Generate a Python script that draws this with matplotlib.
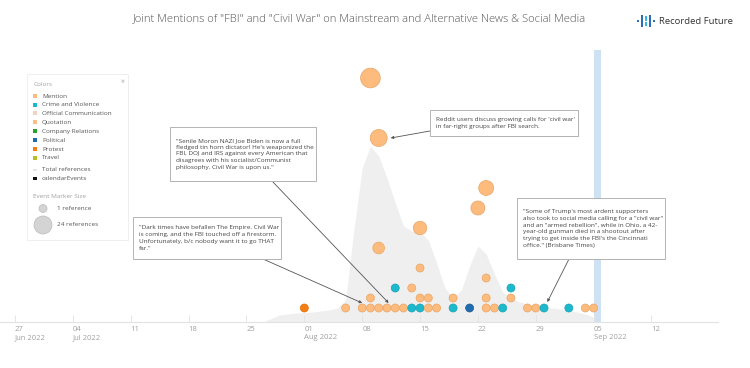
import datetime as dt
import numpy as np
import matplotlib
matplotlib.use("Agg")
import matplotlib.pyplot as plt
from matplotlib.patches import Rectangle, Ellipse

plt.rcParams['font.family'] = ['Open Sans', 'DejaVu Sans']

W, H = 750, 368


def day(s):
    return dt.datetime.strptime(s, "%Y-%m-%d")


# grey area: total references per day
area_days = ["2022-07-27", "2022-07-29", "2022-07-31", "2022-08-02",
             "2022-08-04", "2022-08-05", "2022-08-06", "2022-08-07", "2022-08-08",
             "2022-08-09", "2022-08-10", "2022-08-11", "2022-08-12", "2022-08-13",
             "2022-08-14", "2022-08-15", "2022-08-16", "2022-08-17", "2022-08-18",
             "2022-08-19", "2022-08-20", "2022-08-21", "2022-08-22", "2022-08-23",
             "2022-08-24", "2022-08-25", "2022-08-26", "2022-08-27", "2022-08-29",
             "2022-08-31", "2022-09-02", "2022-09-04", "2022-09-05", "2022-09-06"]
area_refs = [-0.4, 0.3, 0.5, 0.6,
             0.8, 1.0, 1.8, 8.8, 15.0,
             17.2, 16.2, 14.0, 11.5, 9.2,
             8.7, 8.6, 7.8, 5.5, 3.0,
             2.0, 2.8, 5.2, 7.2, 6.4,
             4.4, 2.6, 2.0, 1.6, 1.2,
             1.0, 0.8, 0.4, 0.1, -0.4]

# events
ev_days = ["2022-08-01", "2022-08-06", "2022-08-08", "2022-08-09", "2022-08-09",
           "2022-08-09", "2022-08-10", "2022-08-10", "2022-08-10", "2022-08-11",
           "2022-08-12", "2022-08-12", "2022-08-13", "2022-08-14", "2022-08-14",
           "2022-08-15", "2022-08-15", "2022-08-15", "2022-08-15", "2022-08-16",
           "2022-08-16", "2022-08-17", "2022-08-19", "2022-08-19", "2022-08-21",
           "2022-08-22", "2022-08-23", "2022-08-23", "2022-08-23", "2022-08-23",
           "2022-08-24", "2022-08-25", "2022-08-26", "2022-08-26", "2022-08-28",
           "2022-08-29", "2022-08-30", "2022-09-02", "2022-09-04", "2022-09-05"]
ev_level = [1, 1, 1, 1, 2,
            24, 1, 7, 18, 1,
            1, 3, 1, 1, 3,
            1, 2, 5, 9, 1,
            2, 1, 1, 2, 1,
            11, 1, 2, 4, 13,
            1, 1, 2, 3, 1,
            1, 1, 1, 1, 1]
ev_refs = [1, 1, 1, 1, 1,
           24, 1, 5, 16, 1,
           1, 1, 1, 1, 1,
           1, 1, 1, 8, 1,
           1, 1, 1, 1, 1,
           9, 1, 1, 1, 11,
           1, 1, 1, 1, 1,
           1, 1, 1, 1, 1]
ev_cat = ["Protest", "Mention", "Mention", "Mention", "Mention",
          "Mention", "Mention", "Mention", "Mention", "Mention",
          "Mention", "Crime and Violence", "Mention", "Crime and Violence", "Mention",
          "Crime and Violence", "Mention", "Mention", "Mention", "Mention",
          "Mention", "Mention", "Crime and Violence", "Mention", "Political",
          "Mention", "Mention", "Mention", "Mention", "Mention",
          "Mention", "Crime and Violence", "Mention", "Crime and Violence", "Mention",
          "Mention", "Crime and Violence", "Crime and Violence", "Mention", "Mention"]

categories = ["Mention", "Crime and Violence", "Official Communication", "Quotation",
              "Company Relations", "Political", "Protest", "Travel"]
cat_colors = ["#fdbb7e", "#1cb8cc", "#f2d3c3", "#fdbf88",
              "#2ca02c", "#1f6cb0", "#f57e12", "#bcbd22"]
cat_edges = ["#e8a565", "#16a3b6", "#e0bfae", "#e8a86e",
             "#238a23", "#1a5c98", "#dd6e0a", "#a5a61c"]

week_ticks = ["2022-06-27", "2022-07-04", "2022-07-11", "2022-07-18", "2022-07-25",
              "2022-08-01", "2022-08-08", "2022-08-15", "2022-08-22", "2022-08-29",
              "2022-09-05", "2022-09-12"]
week_labels = ["27\nJun 2022", "04\nJul 2022", "11", "18", "25", "01\nAug 2022",
               "08", "15", "22", "29", "05\nSep 2022", "12"]

calendar_day = "2022-09-05"


def fx(x):
    return x / W


def fy(y):
    return 1 - y / H


def diam(refs):
    return 5 + 3 * np.sqrt(refs)


fig = plt.figure(figsize=(W / 100, H / 100), dpi=100)
ax = fig.add_axes([fx(0), fy(322), fx(718), (322 - 50) / H])

x0 = day("2022-06-27")
ax.set_xlim(x0 - dt.timedelta(days=15 / 8.266), x0 + dt.timedelta(days=703 / 8.266))
ax.set_ylim(-0.4, 26.8)

ad = [day(s) for s in area_days]
ax.fill_between(ad, -0.4, area_refs, color="#efefef", lw=0, zorder=1)

cd = day(calendar_day)
ax.axvspan(cd, cd + dt.timedelta(days=0.9), color="#cfe2f3", lw=0, zorder=1)

colmap = dict(zip(categories, cat_colors))
edgemap = dict(zip(categories, cat_edges))
ed = [day(s) for s in ev_days]
sizes = [(diam(r) * 0.72) ** 2 for r in ev_refs]
ax.scatter(ed, ev_level, s=sizes, c=[colmap[c] for c in ev_cat],
           edgecolors=[edgemap[c] for c in ev_cat], linewidths=0.5, zorder=3)

for sp in ["top", "left", "right"]:
    ax.spines[sp].set_visible(False)
ax.spines["bottom"].set_color("#e2e2e2")
ax.spines["bottom"].set_linewidth(0.8)
ax.set_yticks([])
ax.set_xticks([day(s) for s in week_ticks])
ax.set_xticklabels(week_labels, ha="left")
ax.tick_params(axis="x", direction="in", length=5, color="#e2e2e2", width=0.6,
               labelsize=5.5, labelcolor="#a0a0a0", pad=3)
ax.patch.set_alpha(0)

# title and logo
fig.text(fx(359), fy(19), 'Joint Mentions of "FBI" and "Civil War" on Mainstream and '
         'Alternative News & Social Media', ha="center", va="center",
         fontsize=8.1, color="#555555", fontweight="light")
fig.text(fx(659), fy(21), "Recorded Future", ha="left", va="center",
         fontsize=6.8, color="#333333")
for bx, by, bh, bc in [(638, 21, 2.2, "#2a6fba"), (642, 21, 12, "#2a6fba"),
                       (646, 18.5, 4, "#35b5e5"), (646, 24, 4, "#35b5e5"),
                       (650, 21, 12, "#2a6fba"), (654, 21, 2.2, "#2a6fba")]:
    fig.patches.append(Rectangle((fx(bx - 1.1), fy(by + bh / 2)), fx(2.2), bh / H,
                                 transform=fig.transFigure, color=bc, lw=0))

# legend panel
fig.patches.append(Rectangle((fx(27), fy(240)), fx(101), (240 - 74) / H,
                             transform=fig.transFigure, facecolor="white",
                             edgecolor="#ececec", lw=0.6, zorder=5))
fig.text(fx(34), fy(85), "Colors", fontsize=4.6, color="#a0a0a0", va="center", zorder=6)
fig.text(fx(121), fy(80), "»", fontsize=6, color="#a0a0a0", va="center", ha="center",
         rotation=-90, zorder=6)
row_y = [96, 104.7, 113.3, 122.3, 131.3, 140, 149, 157.7]
for name, col, yy in zip(categories, cat_colors, row_y):
    fig.patches.append(Rectangle((fx(33), fy(yy + 2)), fx(4), 4 / H,
                                 transform=fig.transFigure, color=col, lw=0, zorder=6))
    fig.text(fx(42), fy(yy), name, fontsize=4.6, color="#555555", va="center", zorder=6)
fig.patches.append(Rectangle((fx(33), fy(171)), fx(4), 2.5 / H,
                             transform=fig.transFigure, color="#e6e6e6", lw=0, zorder=6))
fig.text(fx(42), fy(169.7), "Total references", fontsize=4.6, color="#555555",
         va="center", zorder=6)
fig.patches.append(Rectangle((fx(33), fy(180)), fx(4), 3 / H,
                             transform=fig.transFigure, color="#111111", lw=0, zorder=6))
fig.text(fx(42), fy(178.3), "calendarEvents", fontsize=4.6, color="#555555",
         va="center", zorder=6)
fig.text(fx(33), fy(197), "Event Marker Size", fontsize=4.6, color="#a0a0a0",
         va="center", zorder=6)
for dd, yy, label in [(8, 208.5, "1 reference"), (18, 225, "24 references")]:
    fig.patches.append(Ellipse((fx(43), fy(yy)), fx(dd), dd / H,
                               transform=fig.transFigure, facecolor="#d4d4d4",
                               edgecolor="#bbbbbb", lw=0.5, zorder=6))
    fig.text(fx(57), fy(yy), label, fontsize=4.6, color="#555555", va="center", zorder=6)

# annotation boxes
notes = [
    ((170, 127, 316, 181),
     '"Senile Moron NAZI Joe Biden is now a full\nfledged tin horn dictator! He\'s '
     'weaponized the\nFBI, DOJ and IRS against every American that\ndisagrees with his '
     'socialist/Communist\nphilosophy. Civil War is upon us."',
     (272, 181), ("2022-08-11", 0.2, 1.5)),
    ((133, 217, 281, 259),
     '"Dark times have befallen The Empire. Civil War\nis coming, and the FBI touched off '
     'a firestorm.\nUnfortunately, b/c nobody want it to go THAT\nfar."',
     (263, 259), ("2022-08-08", 0.0, 1.5)),
    ((430, 110, 578, 136),
     "Reddit users discuss growing calls for 'civil war'\nin far-right groups after FBI "
     "search.",
     (430, 131), ("2022-08-10", 1.45, 18.0)),
    ((517, 198, 665, 259),
     '"Some of Trump\'s most ardent supporters\nalso took to social media calling for a '
     '"civil war"\nand an "armed rebellion", while in Ohio, a 42-\nyear-old gunman died '
     'in a shootout after\ntrying to get inside the FBI\'s the Cincinnati\noffice." '
     '(Brisbane Times)',
     (569, 259), ("2022-08-30", 0.4, 1.6)),
]
for (l, t, r, b), txt, start, (tday, off, tval) in notes:
    fig.patches.append(Rectangle((fx(l + 1), fy(b + 1)), fx(r - l), (b - t) / H,
                                 transform=fig.transFigure, facecolor="#e8e8e8",
                                 lw=0, zorder=6))
    fig.patches.append(Rectangle((fx(l), fy(b)), fx(r - l), (b - t) / H,
                                 transform=fig.transFigure, facecolor="white",
                                 edgecolor="#a8a8a8", lw=0.6, zorder=7))
    fig.text(fx(l + 6), fy((t + b) / 2), txt, fontsize=4.6, color="#444444",
             va="center", ha="left", linespacing=1.45, zorder=8)
    ax.annotate("", xy=(day(tday) + dt.timedelta(days=off), tval), xycoords="data",
                xytext=(start[0], H - start[1]), textcoords="figure pixels",
                arrowprops=dict(arrowstyle="-|>", color="#555555", lw=0.6,
                                mutation_scale=4, shrinkA=0, shrinkB=0),
                zorder=9, annotation_clip=False)

fig.savefig("out.png", dpi=100)
